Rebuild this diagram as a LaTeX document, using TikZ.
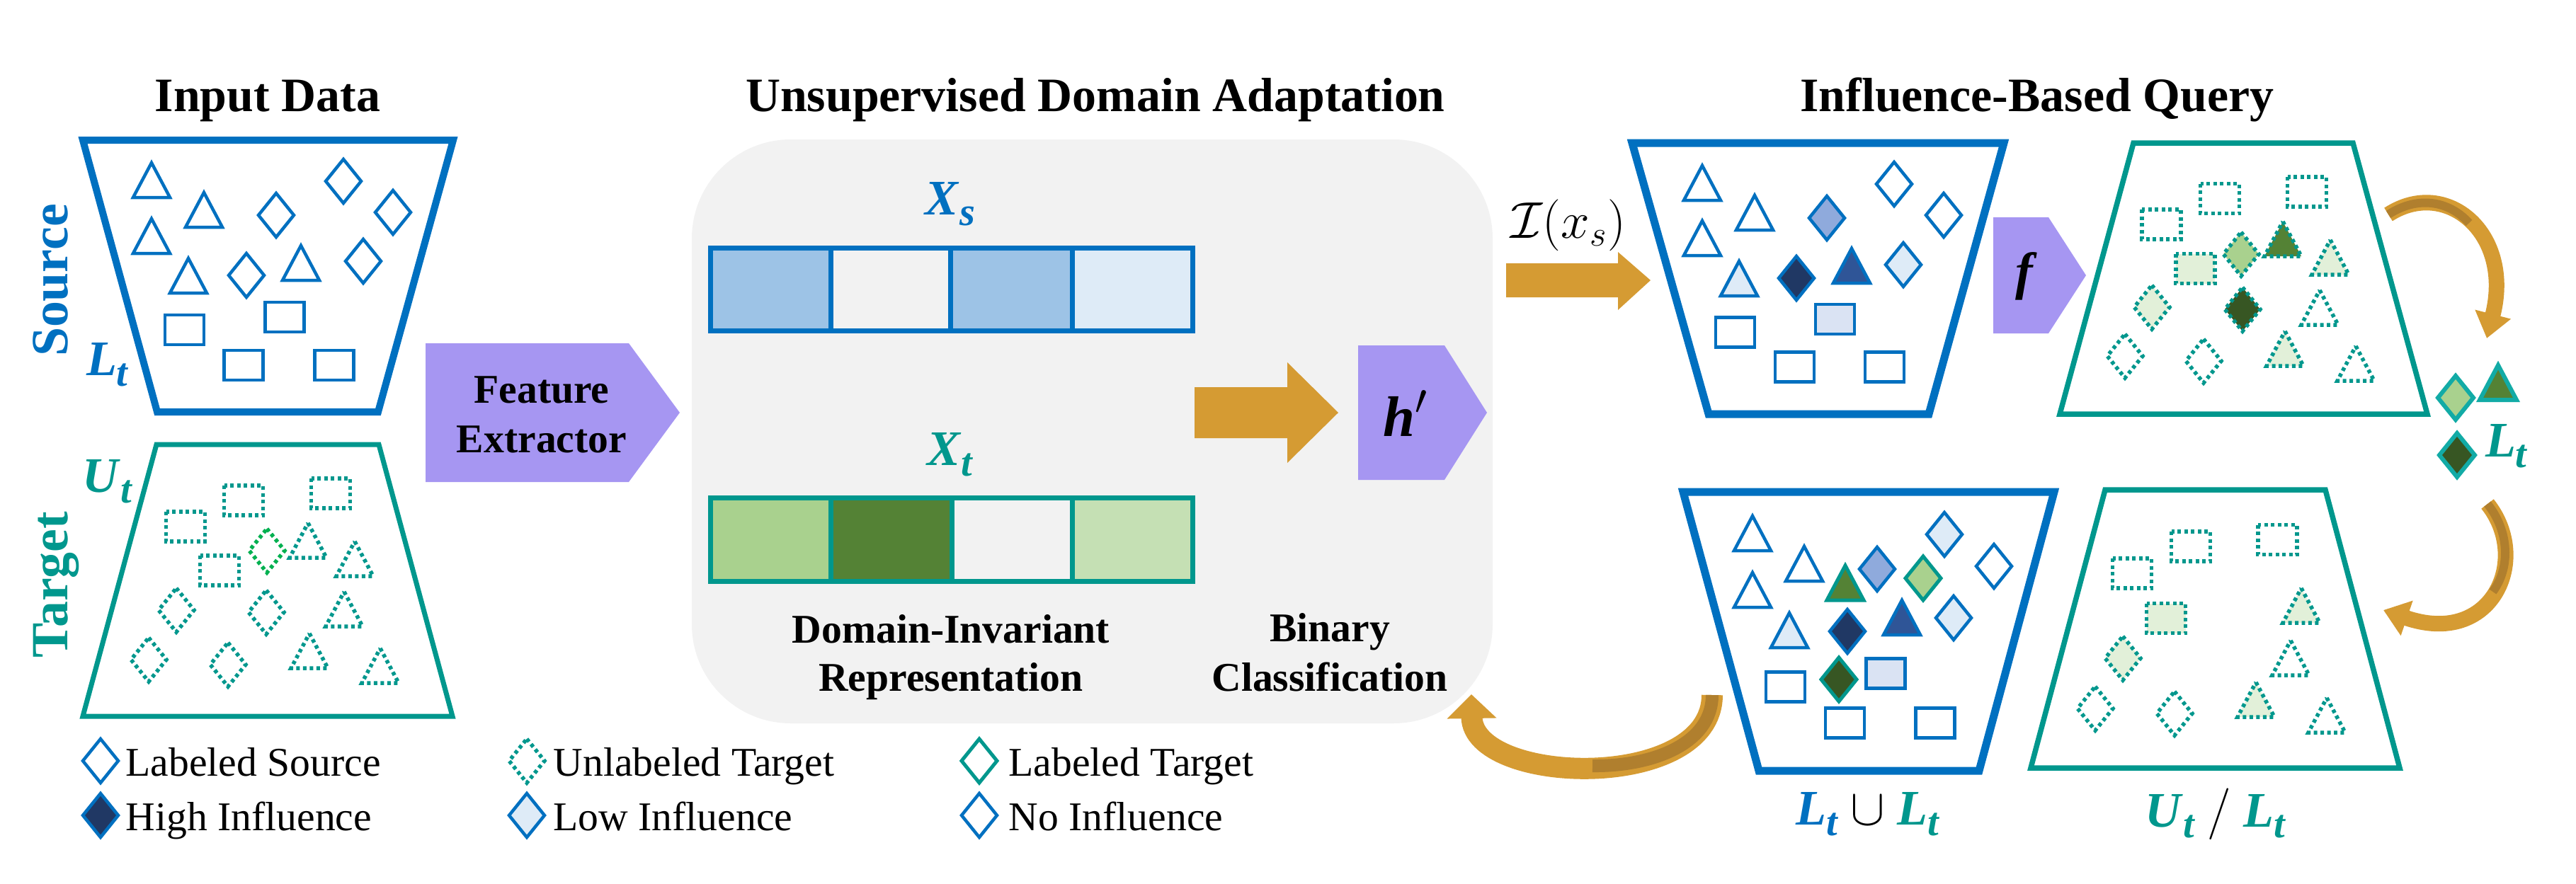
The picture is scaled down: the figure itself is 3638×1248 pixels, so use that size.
\documentclass[tikz,border=0pt]{standalone}
\usepackage{fontspec}
\setmainfont{Liberation Serif}
\usepackage{graphicx}
\usetikzlibrary{arrows.meta}
\definecolor{cblue}{HTML}{0070C0}
\definecolor{cteal}{HTML}{00978D}
\definecolor{cteal2}{HTML}{12ABA6}
\definecolor{cgreen}{HTML}{00B050}
\definecolor{cpurple}{HTML}{A696F2}
\definecolor{corange}{HTML}{D59B33}
\definecolor{corange2}{HTML}{B07F2E}
\definecolor{cgray}{HTML}{F2F2F2}
\definecolor{bA}{HTML}{9DC3E6}
\definecolor{bB}{HTML}{DEEBF7}
\definecolor{bC}{HTML}{8FAADC}
\definecolor{bD}{HTML}{2F5597}
\definecolor{bE}{HTML}{203864}
\definecolor{bF}{HTML}{DAE3F3}
\definecolor{gA}{HTML}{A9D18E}
\definecolor{gB}{HTML}{548235}
\definecolor{gC}{HTML}{C5E0B4}
\definecolor{gD}{HTML}{E2F0D9}
\definecolor{gE}{HTML}{375623}
\newcommand\fsz[1]{\fontsize{#1}{#1}\selectfont}
\newcommand\mvar[2]{\textbf{\textit{#1}}\raisebox{-0.22em}{\scalebox{0.8}{\textbf{\textit{#2}}}}}
\newcommand\ShTri[3]{\draw[#1] (#2,#3) ++(0,-25) -- ++(26,49) -- ++(-52,0) -- cycle;}
\newcommand\ShDia[3]{\draw[#1] (#2,#3) ++(0,-31) -- ++(25,31) -- ++(-25,31) -- ++(-25,-31) -- cycle;}
\newcommand\ShRec[3]{\draw[#1] (#2,#3) ++(-27.5,-21) rectangle ++(55,42);}
\tikzset{
  solb/.style={draw=cblue, line width=0.45mm, line join=miter},
  solt/.style={draw=cteal, line width=0.5mm, line join=miter},
  solt2/.style={draw=cteal2, line width=0.6mm, line join=miter},
  dott/.style={draw=cteal, line width=0.55mm, dash pattern=on 0.5mm off 0.45mm},
  dotg/.style={draw=cgreen, line width=0.55mm, dash pattern=on 0.5mm off 0.45mm},
  ttl/.style={font=\bfseries\fsz{19.3}, anchor=base, inner sep=0pt},
  lblb/.style={font=\bfseries\fsz{16.4}, anchor=base, inner sep=0pt},
  lgd/.style={font=\fsz{16.4}, anchor=base west, inner sep=0pt},
  mth/.style={font=\fsz{20}, inner sep=0pt},
  curv/.style={draw=corange, line cap=butt},
}
\begin{document}
\begin{tikzpicture}[x=0.1mm,y=-0.1mm]
\useasboundingbox (0,0) rectangle (3638,1248);
% ---------- grey panel ----------
\fill[cgray, rounded corners=14mm] (977,197) rectangle (2108,1022);
% ---------- titles ----------
\node[ttl] (t1) at (378,157) {Input Data};
\node[ttl] (t2) at (1547,157) {Unsupervised Domain Adaptation};
\node[ttl] (t3) at (2877,157) {Influence-Based Query};
% ---------- input data ----------
\node[rotate=90, anchor=base, font=\bfseries\fsz{21}, text=cblue, inner sep=0pt] (src) at (96,396) {Source};
\node[rotate=90, anchor=base, font=\bfseries\fsz{21}, text=cteal, inner sep=0pt] (tgt) at (96,826) {Target};
\draw[cblue, line width=1mm] (117,198) -- (640,198) -- (534,582) -- (222,582) -- cycle;
\draw[cteal, line width=0.7mm] (221,628) -- (535,628) -- (639,1012) -- (117,1012) -- cycle;
\node[mth, text=cblue] (lt1) at (152,515) {\mvar{L}{t}};
\node[mth, text=cteal] (ut1) at (152,680) {\mvar{U}{t}};
% source shapes
\ShTri{solb}{214}{255} \ShTri{solb}{288}{297} \ShTri{solb}{214}{334}
\ShTri{solb}{266}{390} \ShTri{solb}{425}{372}
\ShDia{solb}{390}{304} \ShDia{solb}{485}{256} \ShDia{solb}{555}{300}
\ShDia{solb}{348}{389} \ShDia{solb}{513}{369}
\ShRec{solb}{260.5}{466} \ShRec{solb}{402}{448} \ShRec{solb}{344}{516} \ShRec{solb}{472}{516}
% target shapes
\ShRec{dott}{344}{707} \ShRec{dott}{467}{697} \ShRec{dott}{262}{744} \ShRec{dott}{310}{806}
\ShDia{dotg}{377}{778} \ShDia{dott}{249}{862} \ShDia{dott}{376}{865}
\ShDia{dott}{210}{932} \ShDia{dott}{322}{939}
\ShTri{dott}{435}{764} \ShTri{dott}{501}{790} \ShTri{dott}{486}{861}
\ShTri{dott}{437}{920} \ShTri{dott}{537}{941}
% feature extractor
\fill[cpurple] (601,485) -- (888,485) -- (960,583) -- (888,681) -- (601,681) -- cycle;
\node[lblb] (fe1) at (765,569) {Feature};
\node[lblb] (fe2) at (765,639) {Extractor};
% ---------- UDA panel ----------
\node[mth, text=cblue, anchor=base] (xs) at (1342,303) {\mvar{X}{s}};
\fill[bA] (1003,350) rectangle (1173,467);
\fill[bA] (1342,350) rectangle (1514,467);
\fill[bB] (1514,350) rectangle (1684,467);
\draw[cblue, line width=0.7mm] (1003,350) rectangle (1684,467)
  (1173,350) -- (1173,467) (1342,350) -- (1342,467) (1514,350) -- (1514,467);
\node[mth, text=cteal, anchor=base] (xt) at (1342,657) {\mvar{X}{t}};
\fill[gA] (1003,703) rectangle (1173,821);
\fill[gB] (1173,703) rectangle (1344,821);
\fill[gC] (1514,703) rectangle (1684,821);
\draw[cteal, line width=0.7mm] (1003,703) rectangle (1684,821)
  (1173,703) -- (1173,821) (1344,703) -- (1344,821) (1514,703) -- (1514,821);
\node[lblb] (di1) at (1343,908) {Domain-Invariant};
\node[lblb] (di2) at (1343,976) {Representation};
\node[lblb] (bc1) at (1878,906) {Binary};
\node[lblb] (bc2) at (1878,976) {Classification};
\fill[corange] (1687,547) -- (1818,547) -- (1818,512) -- (1890,583) -- (1818,654) -- (1818,619) -- (1687,619) -- cycle;
\fill[cpurple] (1918,488) -- (2040,488) -- (2100,583) -- (2040,678) -- (1918,678) -- cycle;
\node[font=\fsz{23}, inner sep=0pt] (hp) at (1985,584) {\textbf{\textit{h}}$'$};
% ---------- influence query ----------
\node[font=\fsz{22}, inner sep=0pt] (ix) at (2215,318) {$\mathcal{I}(x_s)$};
\fill[corange] (2127,372) -- (2285,372) -- (2285,356) -- (2331,396) -- (2285,438) -- (2285,420) -- (2127,420) -- cycle;
\draw[cblue, line width=1.1mm] (2305,202) -- (2830,202) -- (2724,585) -- (2413,585) -- cycle;
\ShTri{solb}{2404}{259} \ShTri{solb}{2478}{301} \ShTri{solb}{2404}{337}
\ShTri{solb,fill=bB}{2456}{394} \ShTri{solb,fill=bD}{2615}{376}
\ShDia{solb,fill=bC}{2580}{308} \ShDia{solb}{2675}{260} \ShDia{solb}{2745}{304}
\ShDia{solb,fill=bE}{2537}{393} \ShDia{solb,fill=bB}{2688}{374}
\ShRec{solb}{2450.5}{469.5} \ShRec{solb,fill=bF}{2591.5}{451}
\ShRec{solb}{2534.5}{518.5} \ShRec{solb}{2661.5}{518.5}
% f
\fill[cpurple] (2815,307) -- (2893,307) -- (2946,389) -- (2893,471) -- (2815,471) -- cycle;
\node[font=\fsz{21}, inner sep=0pt] (fn) at (2862,390) {\textbf{\textit{f}}};
% target with influence
\draw[cteal, line width=0.75mm] (3013,202) -- (3323,202) -- (3428,585) -- (2909,585) -- cycle;
\ShRec{dott}{3135}{280.5} \ShRec{dott}{3258}{271} \ShRec{dott}{3052.5}{317} \ShRec{dott,fill=gD}{3100.5}{379.5}
\ShDia{dott,fill=gA}{3165}{359} \ShDia{dott,fill=gE}{3167}{437} \ShDia{dott,fill=gD}{3039}{434}
\ShDia{dott}{3001}{503} \ShDia{dott}{3112}{510}
\ShTri{dott,fill=gB}{3224}{338} \ShTri{dott,fill=gD}{3291}{364} \ShTri{dott}{3276}{435}
\ShTri{dott,fill=gD}{3227}{493} \ShTri{dott}{3327}{514}
% labeled set
\ShDia{solt2,fill=gA}{3468}{562} \ShTri{solt2,fill=gB}{3528}{541} \ShDia{solt2,fill=gE}{3470}{643}
\node[mth, text=cteal] (lt2) at (3540,630) {\mvar{L}{t}};
% union set
\draw[cblue, line width=1.1mm] (2377,695) -- (2901,695) -- (2795,1089) -- (2484,1089) -- cycle;
\ShTri{solb}{2475}{754} \ShTri{solb}{2548}{797} \ShTri{solb}{2475}{834}
\ShTri{solb,fill=bB}{2527}{891} \ShTri{solt,fill=gB}{2606}{824} \ShTri{solb,fill=bD}{2686}{873}
\ShDia{solb,fill=bB}{2746}{755} \ShDia{solb}{2816}{800} \ShDia{solb,fill=bC}{2651}{804}
\ShDia{solt,fill=gA}{2716}{817} \ShDia{solb,fill=bB}{2759}{873} \ShDia{solb,fill=bE}{2609}{892}
\ShDia{solt,fill=gE}{2597}{960}
\ShRec{solb}{2521.5}{970.5} \ShRec{solb,fill=bF}{2663}{951.5}
\ShRec{solb}{2605.5}{1021.5} \ShRec{solb}{2733}{1021.5}
\node[mth] (ul) at (2638,1150) {\textcolor{cblue}{\mvar{L}{t}} $\cup$ \textcolor{cteal}{\mvar{L}{t}}};
% remaining target
\draw[cteal, line width=0.75mm] (2973,692) -- (3284,692) -- (3389,1085) -- (2868,1085) -- cycle;
\ShRec{dott}{3094}{772} \ShRec{dott}{3216.5}{762.5} \ShRec{dott}{3011}{810} \ShRec{dott,fill=gD}{3059}{873.5}
\ShDia{dott,fill=gD}{2998}{930} \ShDia{dott}{2959}{1001} \ShDia{dott}{3071}{1008}
\ShTri{dott,fill=gD}{3250}{856} \ShTri{dott}{3235}{930} \ShTri{dott,fill=gD}{3186}{989} \ShTri{dott}{3286}{1011}
\node[mth] (ulr) at (3129,1150) {\textcolor{cteal}{\mvar{U}{t}} $/$ \textcolor{cteal}{\mvar{L}{t}}};
% ---------- curved arrows ----------
\coordinate (a1s) at (3373,303); \coordinate (a1e) at (3512,478);
\draw[curv, line width=2.2mm, -{Triangle[width=5mm,length=3.5mm]}] (a1s) .. controls (3455,250) and (3550,330) .. (a1e);
\draw[corange2, line width=1.2mm] (a1s) .. controls (3414,276.5) and (3458,283) .. (3487,315);
\coordinate (a2s) at (3513,712); \coordinate (a2e) at (3366,862);
\draw[curv, line width=2.2mm, -{Triangle[width=5mm,length=3.5mm]}] (a2s) .. controls (3575,790) and (3520,915) .. (a2e);
\draw[corange2, line width=1.2mm] (a2s) .. controls (3544,751) and (3545.75,801.75) .. (3520.5,836);
\coordinate (a3s) at (2418,982); \coordinate (a3e) at (2078,981);
\draw[curv, line width=3mm, -{Triangle[width=6.8mm,length=3.4mm]}] (a3s) .. controls (2418,1120) and (2080,1110) .. (a3e);
\draw[corange2, line width=1.8mm] (a3s) .. controls (2418,1051) and (2333.5,1083) .. (2249,1082);
% ---------- legend ----------
\ShDia{solb}{142}{1075} \node[lgd] (lg1) at (177,1096) {Labeled Source};
\ShDia{dott}{744}{1075} \node[lgd] (lg2) at (781,1096) {Unlabeled Target};
\ShDia{solt}{1383}{1075} \node[lgd] (lg3) at (1424,1096) {Labeled Target};
\ShDia{solb,fill=bE}{142}{1152} \node[lgd] (lg4) at (177,1173) {High Influence};
\ShDia{solb,fill=bB}{744}{1152} \node[lgd] (lg5) at (781,1173) {Low Influence};
\ShDia{solb}{1383}{1152} \node[lgd] (lg6) at (1424,1173) {No Influence};
\end{tikzpicture}
\end{document}
